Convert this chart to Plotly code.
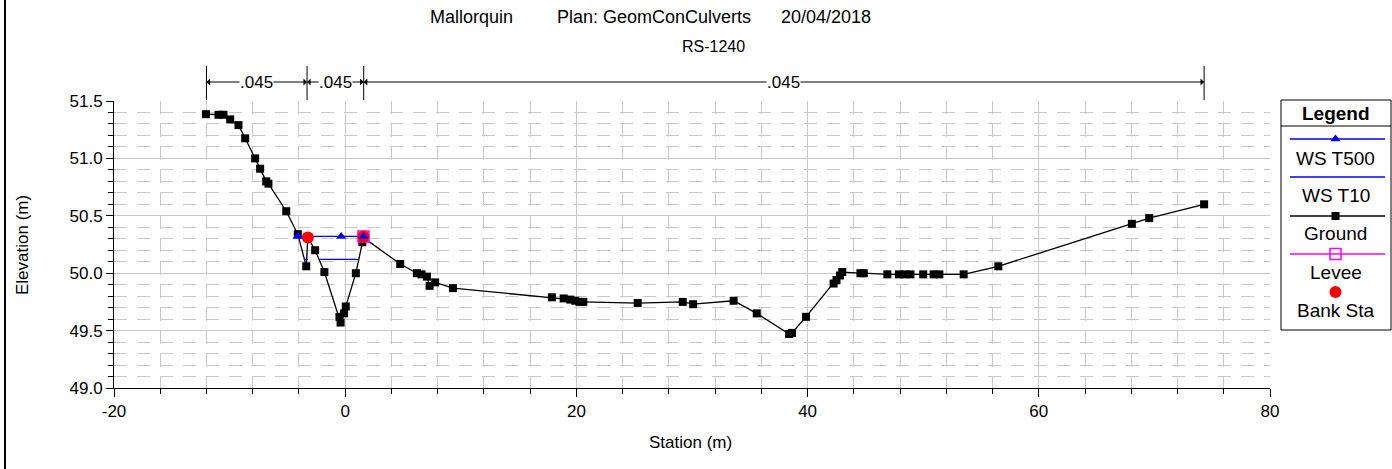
import plotly.graph_objects as go

# ---------------- data ----------------
ground_sta = [-12.05, -10.96, -10.53, -9.95, -9.23, -8.65, -7.79, -7.36, -6.83, -6.64,
              -5.1, -4.1, -3.37, -3.23, -2.6, -1.8, -0.5, -0.4, -0.1, 0.05,
              0.92, 1.48, 1.58, 4.76, 6.2, 6.6, 7.07, 7.3, 7.78, 9.32,
              17.88, 18.9, 19.47, 19.9, 20.27, 20.6, 25.3, 29.2, 30.1, 33.6,
              35.6, 38.4, 38.65, 39.86, 42.25, 42.5, 42.8, 43.0, 44.57, 44.86,
              46.9, 47.9, 48.4, 48.9, 50.0, 50.9, 51.4, 53.5, 56.5, 68.05,
              69.55, 74.3]
ground_elev = [51.385, 51.38, 51.38, 51.34, 51.29, 51.175, 51.0, 50.91, 50.8, 50.78,
               50.54, 50.34, 50.06, 50.31, 50.2, 50.01, 49.62, 49.57, 49.65, 49.71,
               50.0, 50.27, 50.31, 50.08, 50.0, 49.99, 49.97, 49.89, 49.92, 49.87,
               49.79, 49.78, 49.77, 49.76, 49.75, 49.75, 49.74, 49.75, 49.73, 49.76,
               49.65, 49.47, 49.48, 49.62, 49.91, 49.94, 49.98, 50.01, 50.0, 50.0,
               49.99, 49.99, 49.99, 49.99, 49.99, 49.99, 49.99, 49.99, 50.06, 50.43,
               50.48, 50.6]

ws_t500_sta = [-4.1, -0.35, 1.58]
ws_t500_elev = [50.32, 50.32, 50.32]

ws_t10_sta = [-3.55, -3.22, None, -2.26, 1.15]
ws_t10_elev = [50.12, 50.12, None, 50.12, 50.12]

levee_sta = [1.58]
levee_elev = [50.32]

bank_sta = [-3.23, 1.58]
bank_elev = [50.31, 50.32]

manning_bounds = [-12.0, -3.3, 1.6, 74.3]
manning_n = [".045", ".045", ".045"]

x_tick_vals = [-20, 0, 20, 40, 60, 80]
x_tick_text = ["-20", "0", "20", "40", "60", "80"]

title_parts = ["Mallorquin", "Plan: GeomConCulverts", "20/04/2018"]
subtitle = "RS-1240"
legend_names = ["WS T500", "WS T10", "Ground", "Levee", "Bank Sta"]

FONT = "Arial, Liberation Sans, Helvetica, sans-serif"

# ---------------- layout geometry (pixels) ----------------
W, H = 1392, 469
L, T, B = 114, 101, 388
R_MARGIN = 1
PLOT_R = 1270                 # right edge of main plot
PW = W - L - R_MARGIN         # paper width in px
PH = B - T


def px(x):
    return (x - L) / PW


def py(y):
    return (B - y) / PH


# legend box (pixels)
LB_X0, LB_X1, LB_Y0, LB_Y1 = 1281, 1391, 101, 330

fig = go.Figure()

fig.add_trace(go.Scatter(x=ground_sta, y=ground_elev, mode="lines+markers",
                         line=dict(color="black", width=1.3),
                         marker=dict(symbol="square", size=8, color="black"),
                         name="Ground", showlegend=False, cliponaxis=False))
fig.add_trace(go.Scatter(x=ws_t10_sta, y=ws_t10_elev, mode="lines",
                         line=dict(color="#0000ff", width=1.3),
                         name="WS T10", showlegend=False))
fig.add_trace(go.Scatter(x=ws_t500_sta, y=ws_t500_elev, mode="lines",
                         line=dict(color="#0000ff", width=1.3),
                         name="WS T500", showlegend=False))
fig.add_trace(go.Scatter(x=levee_sta, y=levee_elev, mode="markers",
                         marker=dict(symbol="square-open", size=11, color="#ff00ff",
                                     line=dict(width=1.5, color="#ff00ff")),
                         name="Levee", showlegend=False))
fig.add_trace(go.Scatter(x=bank_sta, y=bank_elev, mode="markers",
                         marker=dict(symbol="circle", size=12, color="#ff0000"),
                         name="Bank Sta", showlegend=False))
fig.add_trace(go.Scatter(x=ws_t500_sta, y=ws_t500_elev, mode="markers",
                         marker=dict(symbol="triangle-up", size=9, color="#0000ff"),
                         name="WS T500", showlegend=False))

# ---------------- custom legend on its own hidden axes (pixel-like units) ----------------
lcx = (LB_X0 + LB_X1) / 2 - 0.5
line_x0, line_x1 = 1290, 1385
line_ys = [139, 177, 216, 254]
text_ys = [158, 195, 233, 272, 310]
circle_y = 292
leg_line_colors = ["#0000ff", "#0000ff", "black", "#ff00ff"]

shapes = []
shapes.append(dict(type="rect", xref="paper", yref="paper", x0=px(LB_X0), x1=px(LB_X1),
                   y0=py(LB_Y1), y1=py(LB_Y0 - 1),
                   line=dict(color="black", width=1), fillcolor="white", layer="below"))
shapes.append(dict(type="line", xref="paper", yref="paper", x0=px(LB_X0), x1=px(LB_X1),
                   y0=py(126), y1=py(126), line=dict(color="black", width=1)))
for yy, cc in zip(line_ys, leg_line_colors):
    shapes.append(dict(type="line", xref="x2", yref="y2", x0=line_x0, x1=line_x1, y0=yy, y1=yy,
                       line=dict(color=cc, width=1.3)))

fig.add_trace(go.Scatter(x=[lcx], y=[line_ys[0]], xaxis="x2", yaxis="y2", mode="markers",
                         marker=dict(symbol="triangle-up", size=9, color="#0000ff"),
                         showlegend=False, hoverinfo="skip"))
fig.add_trace(go.Scatter(x=[lcx], y=[line_ys[2]], xaxis="x2", yaxis="y2", mode="markers",
                         marker=dict(symbol="square", size=8, color="black"),
                         showlegend=False, hoverinfo="skip"))
fig.add_trace(go.Scatter(x=[lcx], y=[line_ys[3]], xaxis="x2", yaxis="y2", mode="markers",
                         marker=dict(symbol="square-open", size=11, color="#ff00ff",
                                     line=dict(width=1.5, color="#ff00ff")),
                         showlegend=False, hoverinfo="skip"))
fig.add_trace(go.Scatter(x=[lcx], y=[circle_y], xaxis="x2", yaxis="y2", mode="markers",
                         marker=dict(symbol="circle", size=12, color="#ff0000"),
                         showlegend=False, hoverinfo="skip"))

annotations = []
annotations.append(dict(text="<b>Legend</b>", x=lcx, y=113, xref="x2", yref="y2",
                        xanchor="center", yanchor="middle",
                        showarrow=False, font=dict(size=19, color="black", family=FONT)))
for name, yy in zip(legend_names, text_ys):
    annotations.append(dict(text=name, x=lcx, y=yy, xref="x2", yref="y2",
                            xanchor="center", yanchor="middle",
                            showarrow=False, font=dict(size=19, color="black", family=FONT)))

# ---------------- titles ----------------
title_x = [471, 654, 826]
for t, xx in zip(title_parts, title_x):
    annotations.append(dict(text=t, x=px(xx), y=py(17), xref="paper", yref="paper",
                            xanchor="center", yanchor="middle",
                            showarrow=False, font=dict(size=18, color="black", family=FONT)))
annotations.append(dict(text=subtitle, x=px(713), y=py(46), xref="paper", yref="paper",
                        xanchor="center", yanchor="middle",
                        showarrow=False, font=dict(size=16, color="black", family=FONT)))

annotations.append(dict(text="Station (m)", x=px(690), y=py(442), xref="paper", yref="paper",
                        xanchor="center", yanchor="middle",
                        showarrow=False, font=dict(size=17, color="black", family=FONT)))
annotations.append(dict(text="Elevation (m)", x=px(22), y=py(245), xref="paper", yref="paper",
                        xanchor="center", yanchor="middle",
                        textangle=-90, showarrow=False, font=dict(size=17, color="black", family=FONT)))

# ---------------- Manning n arrows ----------------
arrow_y = py(82)
for b in manning_bounds:
    shapes.append(dict(type="line", xref="x", yref="paper", x0=b, x1=b, y0=py(100), y1=py(66),
                       line=dict(color="black", width=1)))
for i, n in enumerate(manning_n):
    a, b = manning_bounds[i], manning_bounds[i + 1]
    c = (a + b) / 2
    for end in (a, b):
        annotations.append(dict(text="", x=end, y=arrow_y, xref="x", yref="paper",
                                ax=c, ay=0, axref="x", ayref="pixel",
                                showarrow=True, arrowhead=1, arrowsize=1.2, arrowwidth=1,
                                arrowcolor="black", standoff=0, startstandoff=0))
    annotations.append(dict(text=n, x=c, y=arrow_y, xref="x", yref="paper", showarrow=False,
                            xanchor="center", yanchor="middle",
                            bgcolor="white", borderpad=0,
                            font=dict(size=17, color="black", family=FONT)))

# outer frame (left edge)
shapes.append(dict(type="line", xref="paper", yref="paper", x0=px(5), x1=px(5), y0=py(469), y1=py(0),
                   line=dict(color="black", width=2)))

grid_col = "#c8c8c8"
fig.update_layout(
    width=W, height=H,
    margin=dict(l=L, r=R_MARGIN, t=T, b=H - B, pad=0, autoexpand=False),
    paper_bgcolor="white", plot_bgcolor="white",
    font=dict(family=FONT, color="black", size=17),
    showlegend=False,
    shapes=shapes, annotations=annotations,
    xaxis=dict(domain=[0, px(PLOT_R)], range=[-20, 80],
               tickmode="array", tickvals=x_tick_vals, ticktext=x_tick_text,
               showgrid=True, gridcolor=grid_col, gridwidth=1,
               zeroline=False, showline=True, linecolor="black", linewidth=1,
               ticks="outside", ticklen=8, tickcolor="black", tickwidth=1,
               tickfont=dict(size=17, family=FONT), automargin=False,
               minor=dict(dtick=4, tick0=0, showgrid=True, gridcolor=grid_col, griddash="13px,10px",
                          ticks="outside", ticklen=5, tickcolor="black", tickwidth=1),
               fixedrange=True),
    yaxis=dict(range=[49.0, 51.5], dtick=0.5, tick0=49, tickformat=".1f", showgrid=True,
               gridcolor=grid_col, gridwidth=1, zeroline=False, showline=True, linecolor="black",
               linewidth=1, ticks="outside", ticklen=7, tickcolor="black", tickwidth=1,
               tickfont=dict(size=17, family=FONT), automargin=False,
               minor=dict(dtick=0.1, tick0=49, showgrid=True, gridcolor=grid_col, griddash="13px,10px",
                          ticks="outside", ticklen=5, tickcolor="black", tickwidth=1),
               fixedrange=True),
    xaxis2=dict(domain=[px(LB_X0), px(LB_X1)], range=[LB_X0, LB_X1], anchor="y2",
                visible=False, fixedrange=True, automargin=False),
    yaxis2=dict(domain=[py(LB_Y1), py(LB_Y0)], range=[LB_Y1, LB_Y0], anchor="x2",
                visible=False, fixedrange=True, automargin=False),
)

fig.write_html("out.html")
